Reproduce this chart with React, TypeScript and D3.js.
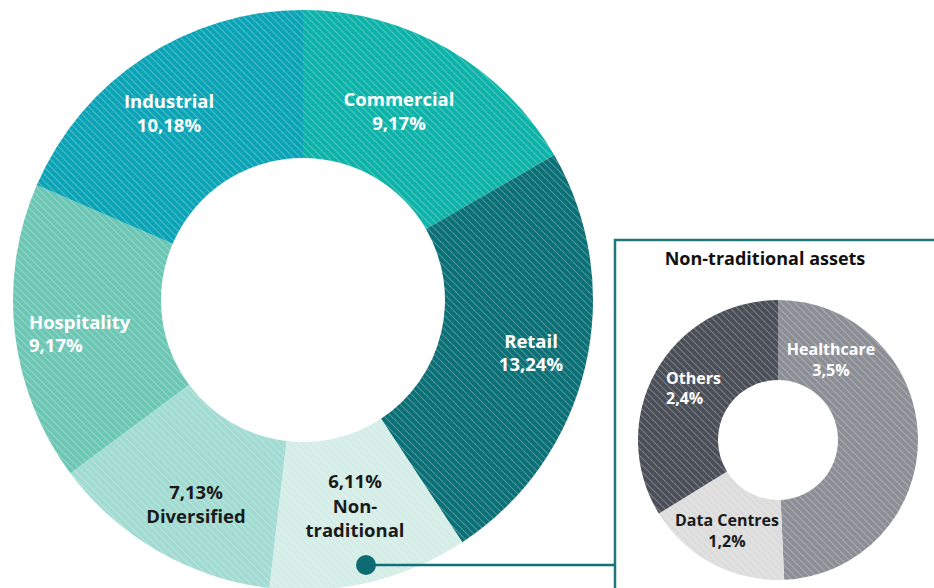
import React from "react";
import * as d3 from "d3";

const mainCategories = ["Commercial", "Retail", "Non-traditional", "Diversified", "Hospitality", "Industrial"];
const mainValues = [9.17, 13.24, 6.11, 7.13, 9.17, 10.18];
const mainLabels = ["9,17%", "13,24%", "6,11%", "7,13%", "9,17%", "10,18%"];
const mainColors = ["#0db3a8", "#0b6f76", "#d5ede7", "#a2dbd2", "#6cc6b4", "#0aa4b6"];

const subCategories = ["Healthcare", "Data Centres", "Others"];
const subValues = [3.5, 1.2, 2.4];
const subLabels = ["3,5%", "1,2%", "2,4%"];
const subColors = ["#8b8e95", "#dcdcdc", "#4a4e57"];

const FONT = "'Open Sans', 'Noto Sans', sans-serif";

type Lab = { lines: string[]; x: number; y: number; fill: string; anchor: string; size: number; lh: number };

export default function App() {
  const pie = d3.pie<number>().sort(null).value((d) => d);
  const mainArcs = pie(mainValues);
  const subArcs = pie(subValues);
  const mainArc = d3.arc<d3.PieArcDatum<number>>().innerRadius(142).outerRadius(290);
  const subArc = d3.arc<d3.PieArcDatum<number>>().innerRadius(60).outerRadius(140);

  const mainLab: Lab[] = [
    { lines: ["Commercial", mainLabels[0]], x: 399, y: 106, fill: "#fff", anchor: "middle", size: 18.5, lh: 24 },
    { lines: ["Retail", mainLabels[1]], x: 531, y: 348, fill: "#fff", anchor: "middle", size: 18.5, lh: 23 },
    { lines: [mainLabels[2], "Non-", "traditional"], x: 355, y: 488, fill: "#1a1a1a", anchor: "middle", size: 18.5, lh: 24.5 },
    { lines: [mainLabels[3], "Diversified"], x: 196, y: 499, fill: "#1a1a1a", anchor: "middle", size: 18.5, lh: 24 },
    { lines: ["Hospitality", mainLabels[4]], x: 29, y: 329, fill: "#fff", anchor: "start", size: 18.5, lh: 23 },
    { lines: ["Industrial", mainLabels[5]], x: 169, y: 108, fill: "#fff", anchor: "middle", size: 18.5, lh: 24 },
  ];
  const subLab: Lab[] = [
    { lines: [subCategories[0], subLabels[0]], x: 831, y: 355, fill: "#fff", anchor: "middle", size: 16, lh: 20.5 },
    { lines: [subCategories[1], subLabels[1]], x: 727, y: 526, fill: "#1a1a1a", anchor: "middle", size: 16, lh: 21 },
    { lines: [subCategories[2], subLabels[2]], x: 666, y: 384, fill: "#fff", anchor: "start", size: 16, lh: 20 },
  ];

  const renderLab = (l: Lab, i: number) => (
    <text key={i} x={l.x} y={l.y} textAnchor={l.anchor as any} fill={l.fill} fontFamily={FONT} fontWeight={700} fontSize={l.size}>
      {l.lines.map((s, j) => (
        <tspan key={j} x={l.x} dy={j === 0 ? 0 : l.lh}>{s}</tspan>
      ))}
    </text>
  );

  return (
    <div style={{ position: "absolute", left: 0, top: 0 }}>
      <svg width={934} height={588} style={{ display: "block" }}>
        <defs>
          <pattern id="hatch" patternUnits="userSpaceOnUse" width={7} height={7}>
            <path d="M-1,-1 L8,8 M-1,6 L1,8 M6,-1 L8,1" stroke="#fff" strokeOpacity={0.27} strokeWidth={1.1} />
          </pattern>
        </defs>
        <rect width={934} height={588} fill="#fff" />
        <g transform="translate(303,300)">
          {mainArcs.map((a, i) => (
            <g key={mainCategories[i]}>
              <path d={mainArc(a) || ""} fill={mainColors[i]} />
              <path d={mainArc(a) || ""} fill="url(#hatch)" />
            </g>
          ))}
        </g>
        {mainLab.map(renderLab)}

        <rect x={615} y={240} width={400} height={400} fill="none" stroke="#1f777c" strokeWidth={2.5} />
        <text x={765} y={265} textAnchor="middle" fontFamily={FONT} fontWeight={700} fontSize={18} fill="#111">
          Non-traditional assets
        </text>
        <g transform="translate(778,440)">
          {subArcs.map((a, i) => (
            <g key={subCategories[i]}>
              <path d={subArc(a) || ""} fill={subColors[i]} />
              <path d={subArc(a) || ""} fill="url(#hatch)" />
            </g>
          ))}
        </g>
        {subLab.map(renderLab)}

        <line x1={366} y1={565} x2={615} y2={565} stroke="#13707a" strokeWidth={2.5} />
        <circle cx={366} cy={565} r={10} fill="#0e6b74" />
      </svg>
    </div>
  );
}
